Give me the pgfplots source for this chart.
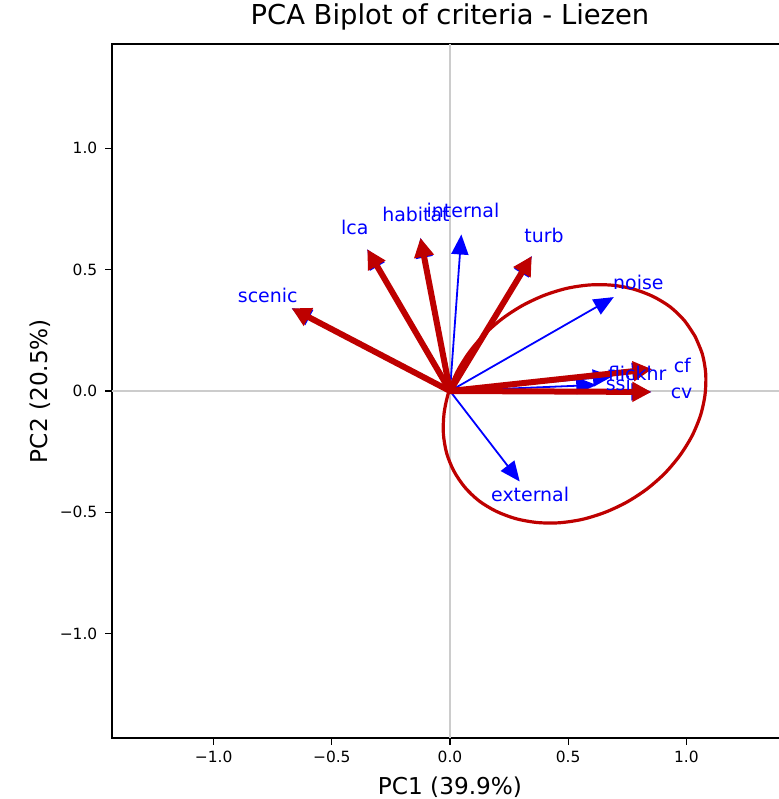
\documentclass[border=0pt]{standalone}
\usepackage{fontspec}
\setmainfont{DejaVu Sans}
\usepackage{pgfplots}
\usepackage{pgfplotstable}
\pgfplotsset{compat=1.18}
\usetikzlibrary{arrows.meta}
\definecolor{darkred}{RGB}{190,0,0}
\definecolor{gridgray}{RGB}{204,204,204}

% label positions (1.15 x loading vectors)
\pgfplotstableread{
x      y      label
-0.771  0.392 scenic
-0.403  0.672 lca
-0.144  0.726 habitat
0.055   0.742 internal
0.398   0.639 turb
0.797   0.445 noise
0.792   0.070 flickhr
0.712   0.029 ssi
0.983   0.104 cf
0.980  -0.005 cv
0.339  -0.429 external
}\labeltable

\pgfplotstableread{
x y
1.037 0.225
0.991 0.291
0.931 0.347
0.858 0.390
0.776 0.420
0.686 0.436
0.591 0.437
0.494 0.423
0.398 0.394
0.306 0.352
0.221 0.298
0.145 0.233
0.081 0.159
0.030 0.079
-0.006 -0.006
-0.025 -0.091
-0.028 -0.176
-0.014 -0.257
0.017 -0.331
0.063 -0.397
0.123 -0.453
0.196 -0.496
0.278 -0.526
0.369 -0.542
0.463 -0.543
0.560 -0.529
0.656 -0.500
0.748 -0.458
0.833 -0.404
0.909 -0.339
0.973 -0.265
1.024 -0.185
1.060 -0.100
1.079 -0.015
1.082 0.070
1.068 0.151
1.037 0.225
}\ellipsetable

\tikzset{
  bluearrow/.style={blue, line width=1.8bp, -{Triangle[length=20bp,width=17bp]}},
  redarrow/.style={darkred, line width=6bp, -{Triangle[length=19bp,width=19bp]}},
}

\begin{document}
\begin{tikzpicture}
\begin{axis}[
  scale only axis, width=676bp, height=694bp,
  xmin=-1.43, xmax=1.43, ymin=-1.43, ymax=1.43,
  axis line style={line width=1.2bp, black},
  xtick={-1,-0.5,0,0.5,1}, xticklabels={−1.0,−0.5,0.0,0.5,1.0},
  ytick={-1,-0.5,0,0.5,1}, yticklabels={−1.0,−0.5,0.0,0.5,1.0},
  tick align=outside, xtick pos=lower, ytick pos=left,
  major tick length=6.5bp,
  every tick/.style={black, line width=1.1bp},
  tick label style={font=\fontsize{15.5}{18}\selectfont, inner sep=0pt},
  xticklabel style={anchor=base, yshift=-18bp},
  yticklabel style={anchor=east, xshift=-8bp},
  title={PCA Biplot of criteria - Liezen},
  title style={at={(axis description cs:0.5,1.0192)}, anchor=base, inner sep=0pt, font=\fontsize{27.5}{31}\selectfont},
  xlabel={PC1 (39.9\%)},
  xlabel style={at={(axis description cs:0.5,-0.0811)}, anchor=base, inner sep=0pt, font=\fontsize{23.3}{27}\selectfont},
  ylabel={PC2 (20.5\%)},
  ylabel style={at={(axis description cs:-0.0947,0.5)}, anchor=base, inner sep=0pt, font=\fontsize{23.3}{27}\selectfont},
]
% reference lines
\addplot[gridgray, line width=1.6bp] coordinates {(-1.43,0) (1.43,0)};
\addplot[gridgray, line width=1.6bp] coordinates {(0,-1.43) (0,1.43)};

% blue loading arrows
\addplot[bluearrow] coordinates {(0,0) (-0.670,0.341)};
\addplot[bluearrow] coordinates {(0,0) (-0.350,0.584)};
\addplot[bluearrow] coordinates {(0,0) (-0.125,0.631)};
\addplot[bluearrow] coordinates {(0,0) (0.048,0.645)};
\addplot[bluearrow] coordinates {(0,0) (0.346,0.556)};
\addplot[bluearrow] coordinates {(0,0) (0.693,0.387)};
\addplot[bluearrow] coordinates {(0,0) (0.689,0.061)};
\addplot[bluearrow] coordinates {(0,0) (0.619,0.025)};
\addplot[bluearrow] coordinates {(0,0) (0.855,0.090)};
\addplot[bluearrow] coordinates {(0,0) (0.852,-0.004)};
\addplot[bluearrow] coordinates {(0,0) (0.295,-0.373)};

% labels
\addplot[draw=none, mark=none, nodes near coords, point meta=explicit symbolic,
  every node near coord/.append style={anchor=center, text=blue, inner sep=0pt, yshift=-4bp,
    font=\fontsize{19}{22}\selectfont, text height=0.76em, text depth=0.24em}]
  table[x=x, y=y, meta=label] {\labeltable};

% red highlighted arrows
\addplot[redarrow] coordinates {(0,0) (-0.670,0.341)};
\addplot[redarrow] coordinates {(0,0) (-0.350,0.584)};
\addplot[redarrow] coordinates {(0,0) (-0.125,0.631)};
\addplot[redarrow] coordinates {(0,0) (0.346,0.556)};
\addplot[redarrow] coordinates {(0,0) (0.855,0.090)};
\addplot[redarrow] coordinates {(0,0) (0.852,-0.004)};

% ellipse
\addplot[darkred, line width=3.2bp, smooth] table[x=x, y=y] {\ellipsetable};
\end{axis}
\pgfresetboundingbox
\useasboundingbox ([shift={(-112bp,-61bp)}]current axis.south west) rectangle ([shift={(-9bp,44bp)}]current axis.north east);
\end{tikzpicture}
\end{document}
